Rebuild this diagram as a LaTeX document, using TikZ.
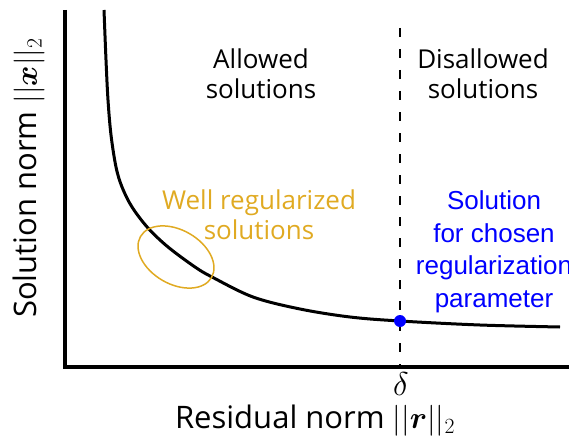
\RequirePackage{fix-cm}
\documentclass[tikz,border=0pt]{standalone}
\usepackage{amsmath,amssymb}
\usepackage{fontspec}
\setmainfont{Open Sans}
\newfontfamily\arialfont{Liberation Sans}
\usetikzlibrary{shapes.geometric}
\definecolor{wellcol}{RGB}{224,170,34}

\begin{document}
\begin{tikzpicture}[x=1pt, y=-1pt,
    axis/.style={line width=3.5pt},
    lcurve/.style={line width=3pt},
    limit/.style={line width=2.2pt, dash pattern=on 9pt off 12pt},
    region/.style={font=\fontsize{26}{30}\selectfont, align=center},
    axislabel/.style={font=\fontsize{31}{36}\selectfont}]
    \useasboundingbox (0,0) rectangle (569,441);
    % axes
    \coordinate (ytop) at (65,10);
    \coordinate (origin) at (65,367);
    \coordinate (xend) at (569,367);
    \draw [axis] (ytop) -- (origin) -- (xend);
    % discrepancy limit
    \coordinate (dtop) at (400,28);
    \coordinate (dbot) at (400,367);
    \draw [limit] (dtop) -- (dbot);
    % L-curve
    \draw [lcurve] plot [smooth, tension=0.55] coordinates {(104,10) (106,60) (108,100) (111,135) (116,167) (122,187) (132,207) (148,228) (168,247) (195,267) (212,277) (253,297) (300,309) (350,317) (400,321) (480,325) (560,327)};
    \node [circle, fill=blue, inner sep=0pt, minimum size=12pt] (chosen) at (400,321) {};
    \node (delta) at (401,384) {\fontsize{33}{38}\selectfont$\delta$};
    \node [region] (allowed) at (261,74) {Allowed\\solutions};
    \node [region] (disallowed) at (483,74) {Disallowed\\solutions};
    \node [region, text=wellcol] (welllabel) at (259,215) {Well regularized\\solutions};
    \node [draw=wellcol, ellipse, line width=1.5pt, minimum width=82pt, minimum height=54pt, rotate=-30] (wellset) at (176,257) {};
    \node [font=\arialfont\fontsize{26}{32.5}\selectfont, text=blue, align=center] (chosenlabel) at (494,252) {Solution\\for chosen\\regularization\\parameter};
    \node [axislabel] (xlabel) at (315,421) {Residual norm $||\boldsymbol{r}||_2$};
    \node [axislabel, rotate=90] (ylabel) at (29,178) {Solution norm $||\boldsymbol{x}||_2$};
\end{tikzpicture}
\end{document}
